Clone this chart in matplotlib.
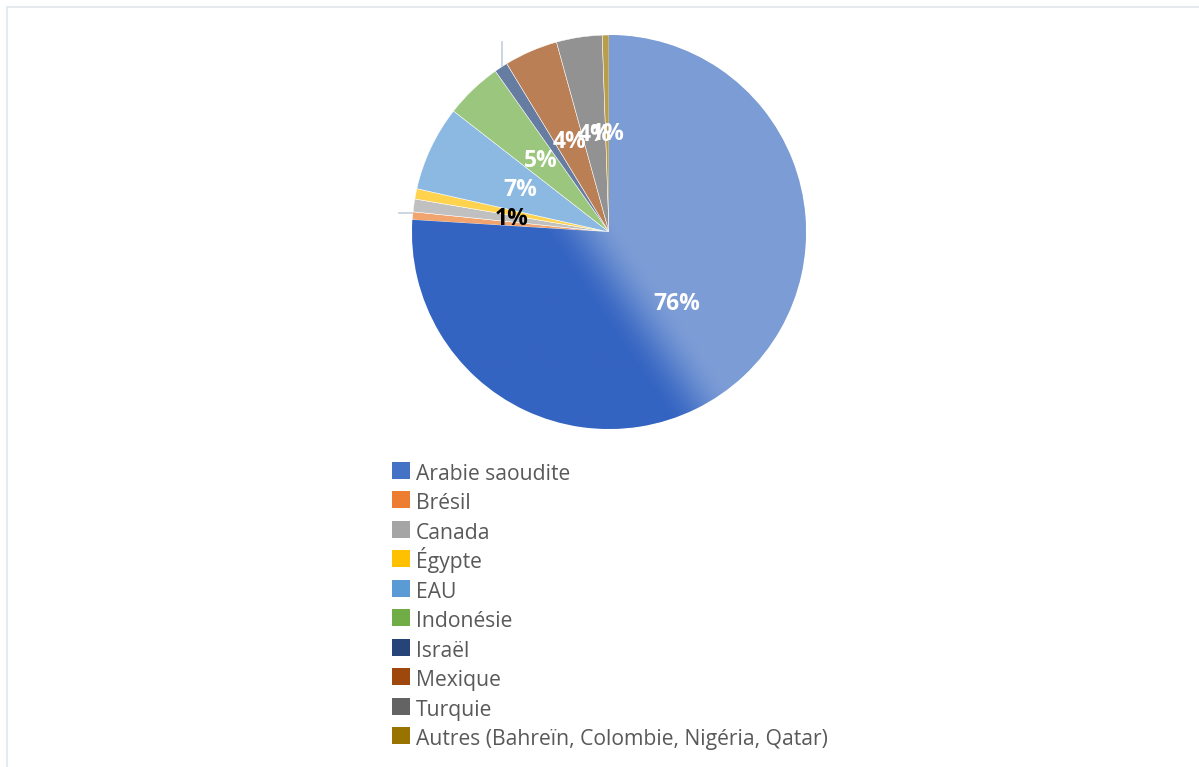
import matplotlib.pyplot as plt
import numpy as np
from matplotlib.colors import to_rgb

# Data (shares in %)
countries = ["Arabie saoudite", "Brésil", "Canada", "Égypte", "EAU", "Indonésie",
             "Israël", "Mexique", "Turquie", "Autres (Bahreïn, Colombie, Nigéria, Qatar)"]
shares = [76.1, 0.65, 1.05, 0.85, 7.0, 4.7, 1.1, 4.4, 3.75, 0.55]
colors = ["#4472C4", "#ED7D31", "#A5A5A5", "#FFC000", "#5B9BD5", "#70AD47",
          "#264478", "#9E480E", "#636363", "#997300"]
# Excel only displays some of the data labels
show_label = [True, False, True, False, True, True, False, True, True, True]
dark_label = [False, False, True, False, False, False, False, False, False, False]

W, H = 1199, 767
cx, cy, R = 609, H - 232, 197


def tint(c, f):
    r = np.array(to_rgb(c))
    return tuple(r + (1 - r) * f)


fig = plt.figure(figsize=(W / 100, H / 100), dpi=100)
ax = fig.add_axes([0, 0, 1, 1])

wedges, _ = ax.pie(shares, colors=colors, startangle=90, counterclock=False,
                   center=(cx, cy), radius=R,
                   wedgeprops=dict(edgecolor="white", linewidth=0.35))

# flat light fill for the small slices, diagonal gradient for the big one
for i, w in enumerate(wedges):
    w.set_facecolor(tint(colors[i], 0.3))

light = np.array(tint(colors[0], 0.3))
dark = np.array([52, 100, 194]) / 255
xs = np.linspace(-1, 1, 400)
X, Y = np.meshgrid(xs, xs)
u = -(0.829 * X + 0.559 * Y)
t = np.clip((u + 0.06) / 0.34, 0, 1)
t = (t * t * (3 - 2 * t))[..., None]
img = light * (1 - t) + dark * t
im = ax.imshow(img, extent=(cx - R, cx + R, cy - R, cy + R), origin="lower",
               zorder=wedges[0].get_zorder() + 0.1, interpolation="bilinear")
im.set_clip_path(wedges[0])
ax.set_xlim(0, W)
ax.set_ylim(0, H)
ax.axis("off")

# data labels
theta = 90.0
total = sum(shares)
for i, v in enumerate(shares):
    span = v / total * 360
    mid = np.radians(theta - span / 2)
    theta -= span
    if not show_label[i]:
        continue
    ax.text(cx + 0.5 * R * np.cos(mid), cy + 0.5 * R * np.sin(mid),
            f"{int(v + 0.5)}%", ha="center", va="center", fontsize=16.5,
            fontweight="bold", family="Open Sans",
            color="black" if dark_label[i] else "white", zorder=5)

# leader lines left by hidden labels
ax.plot([502, 502], [H - 42, H - 66], color="#C5CEDB", lw=1.2, zorder=1)
ax.plot([399, 412], [H - 212.5, H - 212.5], color="#C5CEDB", lw=1.2, zorder=1)

# legend
for i, name in enumerate(countries):
    yc = H - (470.5 + i * 29.44)
    ax.add_patch(plt.Rectangle((392, yc - 8.5), 18, 17, facecolor=colors[i],
                               edgecolor="none"))
    ax.text(416, yc - 9.5, name, ha="left", va="baseline", fontsize=15.2,
            family="Open Sans", color="#595959")

# chart area border
ax.plot([6.5, 6.5], [0, H - 6.5], color="#E6E9ED", lw=1.5)
ax.plot([6.5, W], [H - 6.5, H - 6.5], color="#E6E9ED", lw=1.5)

fig.savefig("out.png", dpi=100)
